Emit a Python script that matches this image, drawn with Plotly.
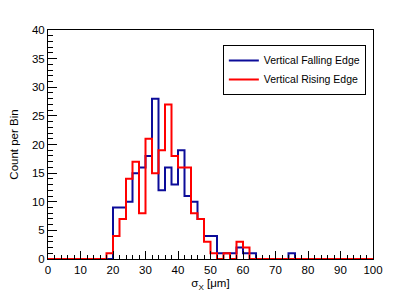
import plotly.graph_objects as go

# 50 bins of width 2 from 0 to 100
bin_edges = list(range(0, 102, 2))

falling_edge = [0, 0, 0, 0, 0, 0, 0, 0, 0, 0,
                9, 9, 10, 15, 16, 18, 28, 12, 16, 13,
                19, 11, 10, 7, 4, 4, 1, 1, 1, 2,
                1, 1, 0, 0, 0, 0, 0, 1, 0, 0,
                0, 0, 0, 0, 0, 0, 0, 0, 0, 0]

rising_edge = [0, 0, 0, 0, 0, 0, 0, 0, 0, 1,
               4, 7, 14, 17, 8, 21, 15, 19, 27, 18,
               16, 16, 8, 7, 3, 1, 0, 1, 0, 3,
               2, 0, 0, 0, 0, 0, 0, 0, 0, 0,
               0, 0, 0, 0, 0, 0, 0, 0, 0, 0]

series_names = ["Vertical Falling Edge", "Vertical Rising Edge"]
series_colors = ["#0c0c99", "#ff0000"]

FONT = "Liberation Sans, Arial, Helvetica, sans-serif"

fig = go.Figure()
for name, counts, color in zip(series_names, [falling_edge, rising_edge], series_colors):
    fig.add_trace(go.Scatter(
        x=bin_edges,
        y=counts + [counts[-1]],
        mode="lines",
        line=dict(shape="hv", color=color, width=2),
        name=name,
        cliponaxis=False,
    ))

# page body has an 8px margin; margins compensate so the frame lands at
# x 48..373, y 30..259 in the window
fig.update_layout(
    width=407, height=294,
    margin=dict(l=40, r=42, t=22, b=43, autoexpand=False),
    paper_bgcolor="white", plot_bgcolor="white",
    font=dict(family=FONT, size=11, color="black"),
    showlegend=True,
    legend=dict(
        x=0.538, y=0.935, xanchor="left", yanchor="top",
        bgcolor="white", bordercolor="black", borderwidth=1,
        font=dict(family=FONT, size=10.5, color="black"),
        itemwidth=30, tracegroupgap=0,
    ),
)

fig.update_xaxes(
    range=[0, 100], tick0=0, dtick=10, automargin=False,
    ticks="inside", ticklen=8, tickcolor="black", tickwidth=1,
    showline=True, linecolor="black", linewidth=1, mirror=True,
    showgrid=False, zeroline=False,
    minor=dict(dtick=2, ticks="inside", ticklen=4, tickcolor="black", showgrid=False),
    tickfont=dict(family=FONT, size=11.5),
    title=dict(text="σ<sub>X</sub> [μm]", font=dict(family=FONT, size=11.5), standoff=4),
)
fig.update_yaxes(
    range=[0, 40], tick0=0, dtick=5, automargin=False,
    ticks="inside", ticklen=9, tickcolor="black", tickwidth=1,
    showline=True, linecolor="black", linewidth=1, mirror=True,
    showgrid=False, zeroline=False,
    minor=dict(dtick=1, ticks="inside", ticklen=5, tickcolor="black", showgrid=False),
    tickfont=dict(family=FONT, size=11.5),
    title=dict(text="Count per Bin", font=dict(family=FONT, size=11.5), standoff=15),
)

fig.write_html("out.html")
